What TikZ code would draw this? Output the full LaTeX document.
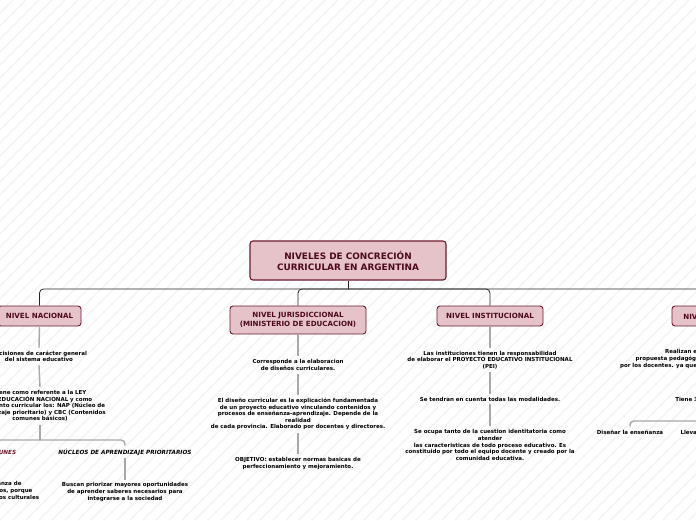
\documentclass[tikz,border=0pt]{standalone}
\usepackage{fontspec}
\setmainfont{DejaVu Sans}
\definecolor{boxfill}{HTML}{E6C3C9}
\definecolor{boxdraw}{HTML}{6E1A2E}
\definecolor{boxtext}{HTML}{4D0A1C}
\definecolor{gc}{HTML}{A8A8A8}
\definecolor{stripe}{HTML}{F3F3F3}
\begin{document}
\begin{tikzpicture}[x=1pt,y=-1pt,
  lvl/.style={draw=boxdraw, fill=boxfill, rounded corners=3pt, line width=0.9pt, text=boxtext,
    font=\fontsize{7.1}{9}\selectfont\bfseries, align=center, inner sep=0pt},
  txt/.style={font=\fontsize{5.5}{6.6}\selectfont\bfseries, align=center, inner sep=3pt, text=black},
  sub/.style={font=\fontsize{5.7}{6.6}\selectfont\bfseries\itshape, align=center, inner sep=3pt},
  gline/.style={draw=gc, line width=1.4pt, rounded corners=4pt},
  bus/.style={draw=black!85, line width=0.8pt, rounded corners=4pt}]
\useasboundingbox (0,0) rectangle (696,520);
\begin{scope}
  \clip (0,0) rectangle (696,520);
  \fill[white] (0,0) rectangle (696,520);
  \foreach \i in {-40,-39,...,54} \draw[stripe,line width=1.3pt] (\i*13,520) -- (\i*13+520,0);

  % root
  \node[lvl, line width=1.1pt, minimum width=196pt, minimum height=39pt,
        font=\fontsize{8.9}{11}\selectfont\bfseries] (root) at (348,260.5)
        {NIVELES DE CONCRECIÓN\\CURRICULAR EN ARGENTINA};

  % level boxes
  \node[lvl, minimum width=83pt, minimum height=20pt] (nac) at (39.5,316) {NIVEL NACIONAL};
  \node[lvl, minimum width=136pt, minimum height=28pt] (jur) at (298,320) {NIVEL JURISDICCIONAL\\(MINISTERIO DE EDUCACION)};
  \node[lvl, minimum width=106pt, minimum height=20pt] (ins) at (490,316) {NIVEL INSTITUCIONAL};
  \node[lvl, minimum width=78pt, minimum height=20pt] (aul) at (711,316) {NIVEL ÁULICO};

  \coordinate (hub) at (348,289);
  \draw[bus] (root.south) -- (hub);
  \draw[bus] (hub) -| (nac.north);
  \draw[bus] (hub) -| (jur.north);
  \draw[bus] (hub) -| (ins.north);
  \draw[bus] (hub) -| (aul.north);

  % nacional
  \node[txt] (n1) at (39,356.5) {Decisiones de carácter general\\del sistema educativo};
  \node[txt] (n2) at (40,406) {Tiene como referente a la LEY\\DE EDUCACIÓN NACIONAL y como\\documento curricular los: NAP (Núcleo de\\aprendizaje prioritario) y CBC (Contenidos\\comunes básicos)};
  \node[sub, text=boxdraw] (cbc) at (-37,451.5) {CONTENIDOS BÁSICOS COMUNES};
  \node[sub, text=black] (nuc) at (125,452) {NÚCLEOS DE APRENDIZAJE PRIORITARIOS};
  \node[txt] (cbct) at (-34,491) {Garantizan a todos la enseñanza de\\saberes socialmente considerados, porque\\constituyen los saberes más básicos culturales};
  \node[txt] (nuct) at (125,492) {Buscan priorizar mayores oportunidades\\de aprender saberes necesarios para\\integrarse a la sociedad};
  \draw[gline] (nac.south) -- (n1.north);
  \draw[gline] (n1.south) -- (n2.north);
  \coordinate (nb) at (40,440);
  \draw[gline] (n2.south) -- (nb);
  \draw[gline] (nb) -| (nuc.north);
  \draw[gline] (nb) -| (cbc.north);
  \draw[gline] (nuc.south) -- (nuct.north);
  \draw[gline] (cbc.south) -- (cbct.north);

  % jurisdiccional
  \node[txt] (j1) at (298,365) {Corresponde a la elaboracion\\de diseños curriculares.};
  \node[txt] (j2) at (298,414) {El diseño curricular es la explicación fundamentada\\de un proyecto educativo vinculando contenidos y\\procesos de enseñanza-aprendizaje. Depende de la\\realidad\\de cada provincia. Elaborado por docentes y directores.};
  \node[txt] (j3) at (298,463.5) {OBJETIVO: establecer normas basicas de\\perfeccionamiento y mejoramiento.};
  \draw[gline] (jur.south) -- (j1.north);
  \draw[gline] (j1.south) -- (j2.north);
  \draw[gline] (j2.south) -- (j3.north);

  % institucional
  \node[txt] (i1) at (490,360) {Las instituciones tienen la responsabilidad\\de elaborar el PROYECTO EDUCATIVO INSTITUCIONAL\\(PEI)};
  \node[txt] (i2) at (490,399) {Se tendran en cuenta todas las modalidades.};
  \node[txt] (i3) at (490,445) {Se ocupa tanto de la cuestion identitatoria como\\atender\\las caracteristicas de todo proceso educativo. Es\\constituido por todo el equipo docente y creado por la\\comunidad educativa.};
  \draw[gline] (ins.south) -- (i1.north);
  \draw[gline] (i1.south) -- (i2.north);
  \draw[gline] (i2.south) -- (i3.north);

  % aulico
  \node[txt] (a1) at (715,359) {Realizan el proyecto de aula, un\\propuesta pedagógica didáctica elaborada y llevad\\por los docentes. ya que son quienes conocen a sus alumnos};
  \node[txt] (a2) at (705,399) {Tiene 3 momentos:};
  \node[txt] (a3) at (630,432) {Diseñar la enseñanza};
  \node[txt] (a4) at (704,432) {Llevarla a cabo};
  \draw[gline] (aul.south) -- (a1.north);
  \draw[gline] (a1.south) -- (a2.north);
  \coordinate (ab) at (705,421);
  \draw[gline] (a2.south) -- (ab);
  \draw[gline] (ab) -| (a3.north);
  \draw[gline] (ab) -- (a4.north);
\end{scope}
\end{tikzpicture}
\end{document}
